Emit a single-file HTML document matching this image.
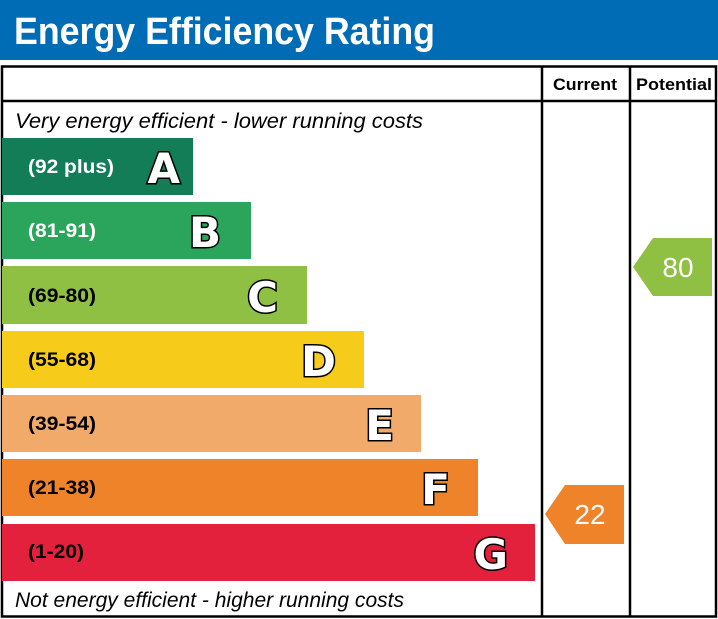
<!DOCTYPE html>
<html><head><style>body{margin:0;background:#fff}svg{display:block}</style></head><body>
<svg width="718" height="619" xmlns="http://www.w3.org/2000/svg" font-family="Liberation Sans, Arial, sans-serif">
<rect x="0" y="0" width="718" height="60" fill="#006cb5"/>
<text x="14" y="44" font-size="38" font-weight="bold" fill="#fff" textLength="421" lengthAdjust="spacingAndGlyphs">Energy Efficiency Rating</text>
<rect x="2" y="66.5" width="714" height="550" fill="none" stroke="#000" stroke-width="2.5"/>
<line x1="2" y1="101" x2="716" y2="101" stroke="#000" stroke-width="2.5"/>
<line x1="542" y1="66" x2="542" y2="617" stroke="#000" stroke-width="2.5"/>
<line x1="630" y1="66" x2="630" y2="617" stroke="#000" stroke-width="2.5"/>
<text x="553" y="90" font-size="17" font-weight="bold" textLength="64" lengthAdjust="spacingAndGlyphs">Current</text>
<text x="636" y="90" font-size="17" font-weight="bold" textLength="76" lengthAdjust="spacingAndGlyphs">Potential</text>
<text x="15" y="128" font-size="21" font-style="italic" textLength="408" lengthAdjust="spacingAndGlyphs">Very energy efficient - lower running costs</text>
<text x="15" y="607" font-size="21" font-style="italic" textLength="389" lengthAdjust="spacingAndGlyphs">Not energy efficient - higher running costs</text>
<g font-weight="bold">
<g font-size="19">
<rect x="2" y="138" width="191" height="57" fill="#127d57"/>
<text x="28" y="173" fill="#fff" textLength="86" lengthAdjust="spacingAndGlyphs">(92 plus)</text>
<rect x="2" y="202" width="249" height="57" fill="#2ba55c"/>
<text x="28" y="237" fill="#fff" textLength="68" lengthAdjust="spacingAndGlyphs">(81-91)</text>
<rect x="2" y="266" width="305" height="58" fill="#8fbf43"/>
<text x="28" y="302" fill="#000" textLength="68" lengthAdjust="spacingAndGlyphs">(69-80)</text>
<rect x="2" y="331" width="362" height="57" fill="#f6cb19"/>
<text x="28" y="366" fill="#000" textLength="68" lengthAdjust="spacingAndGlyphs">(55-68)</text>
<rect x="2" y="395" width="419" height="57" fill="#f2aa6b"/>
<text x="28" y="430" fill="#000" textLength="68" lengthAdjust="spacingAndGlyphs">(39-54)</text>
<rect x="2" y="459" width="476" height="57" fill="#ee8329"/>
<text x="28" y="494" fill="#000" textLength="68" lengthAdjust="spacingAndGlyphs">(21-38)</text>
<rect x="2" y="524" width="533" height="57" fill="#e3213c"/>
<text x="28" y="558" fill="#000" textLength="56" lengthAdjust="spacingAndGlyphs">(1-20)</text>
</g>
<g font-size="42" fill="#fff" stroke="#000" stroke-width="3" paint-order="stroke" text-anchor="end" font-family="DejaVu Sans, Liberation Sans, sans-serif">
<text x="180" y="183">A</text>
<text x="221" y="247">B</text>
<text x="278" y="312">C</text>
<text x="336" y="376">D</text>
<text x="394" y="440">E</text>
<text x="450" y="504">F</text>
<text x="508" y="569">G</text>
</g>
</g>
<polygon points="545,514 565,485 624,485 624,544 565,544" fill="#ee8329"/>
<text x="590" y="524" font-size="28" fill="#fff" text-anchor="middle">22</text>
<polygon points="633,267 653,238 712,238 712,296 653,296" fill="#8fbf43"/>
<text x="678" y="277" font-size="28" fill="#fff" text-anchor="middle">80</text>
</svg>
</body></html>
